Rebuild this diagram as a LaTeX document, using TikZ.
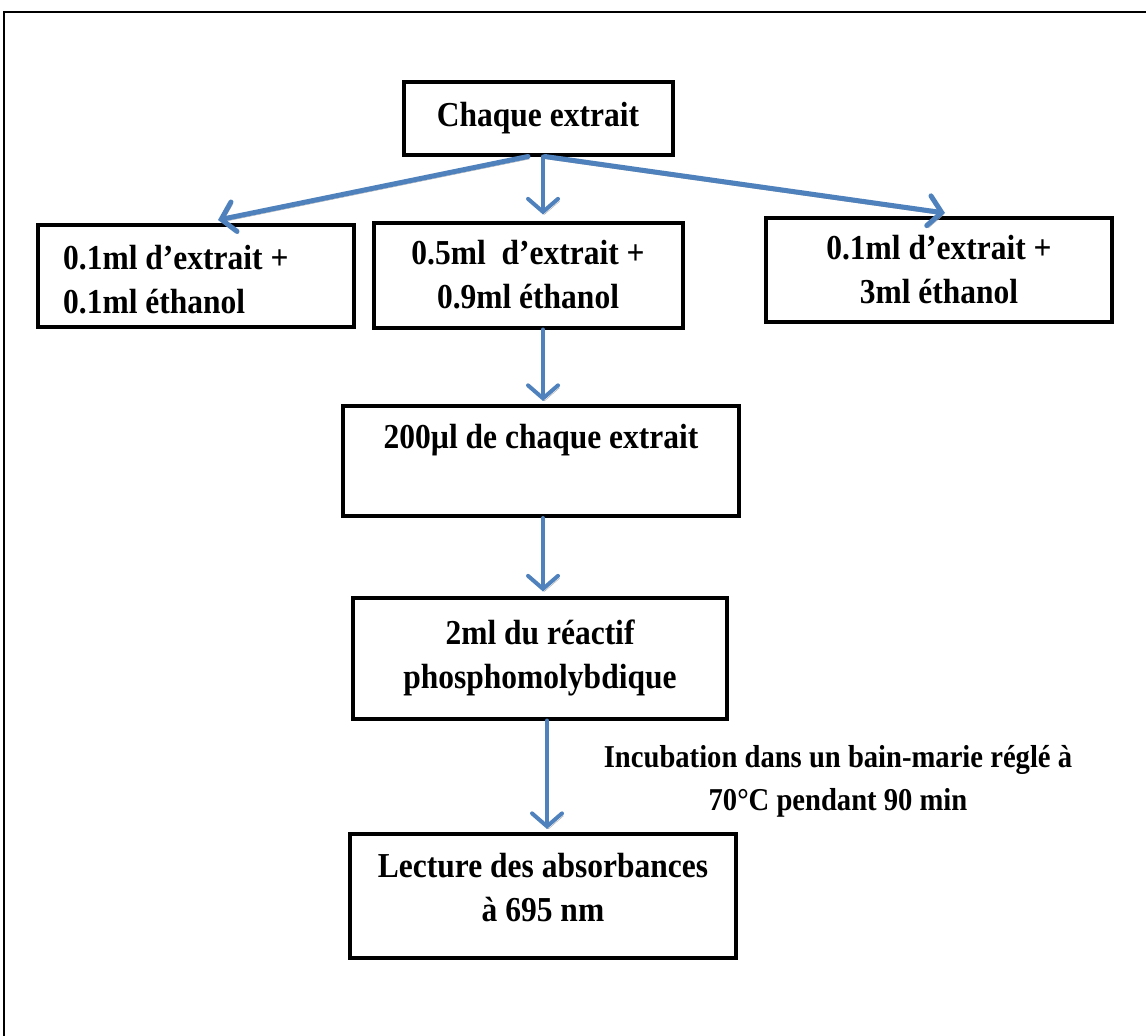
\documentclass[tikz,border=0pt]{standalone}
\usepackage{fontspec}
\setmainfont[FakeStretch=0.9]{Liberation Serif}
\usetikzlibrary{arrows.meta,calc}
\definecolor{arrblue}{RGB}{79,129,189}
\tikzset{
  stepbox/.style={draw=black, line width=4pt, inner sep=0pt, align=center,
    font=\bfseries\fontsize{35}{44}\selectfont},
  lbl/.style={inner sep=0pt, font=\bfseries\fontsize{35}{44}\selectfont},
  smalllbl/.style={inner sep=0pt, font=\bfseries\fontsize{31.8}{43}\selectfont},
  flow/.style={draw=arrblue, line width=5pt, line cap=round,
    -{Straight Barb[length=13pt,width=30pt,line cap=round]},
    preaction={draw=black!35, transform canvas={shift={(1.5pt,-2.5pt)}}}},
  thinflow/.style={flow, line width=4pt}
}
\begin{document}
\begin{tikzpicture}[x=1pt,y=-1pt]
\useasboundingbox (0,0) rectangle (1146,1036);
% outer frame (open at right and bottom)
\draw[line width=2pt] (4,1040) -- (4,12) -- (1150,12);

\node[stepbox, minimum width=269pt, minimum height=73pt] (top) at (538,118) {Chaque extrait};
\node[stepbox, minimum width=316pt, minimum height=102pt] (b1) at (196,276) {};
\node[lbl, align=left, anchor=west] (t1) at (63,280) {0.1ml d’extrait +\\0.1ml éthanol};
\node[stepbox, minimum width=309pt, minimum height=105pt] (b2) at (528,275) {0.5ml \ d’extrait +\\0.9ml éthanol};
\node[stepbox, minimum width=346pt, minimum height=104pt] (b3) at (939,270) {0.1ml d’extrait +\\3ml éthanol};
\node[stepbox, minimum width=396pt, minimum height=110pt] (b4) at (541,461) {};
\node[lbl] (t4) at (541,440) {200µl de chaque extrait};
\node[stepbox, minimum width=374pt, minimum height=121pt] (b5) at (540,658) {2ml du réactif\\phosphomolybdique};
\node[stepbox, minimum width=386pt, minimum height=124pt] (b6) at (543,896) {};
\node[lbl, align=center] (t6) at (543,888) {Lecture des absorbances\\à 695 nm};
\node[smalllbl, align=center] (inc) at (838,781) {Incubation dans un bain-marie réglé à\\70°C pendant 90 min};

\draw[flow] ($(top.south)+(-10,0)$) -- ($(b1.north)+(22,-3)$);
\draw[thinflow] ($(top.south)+(5,0)$) -- ($(b2.north)+(15,-6)$);
\draw[flow] ($(top.south)+(7,0)$) -- ($(b3.north)+(6,-3)$);
\draw[thinflow] ($(b2.south)+(15,0)$) -- ($(b4.north)+(2,-3)$);
\draw[thinflow] ($(b4.south)+(2,0)$) -- ($(b5.north)+(3,-4)$);
\draw[thinflow] ($(b5.south)+(7,0)$) -- ($(b6.north)+(4,-3)$);
\end{tikzpicture}
\end{document}
